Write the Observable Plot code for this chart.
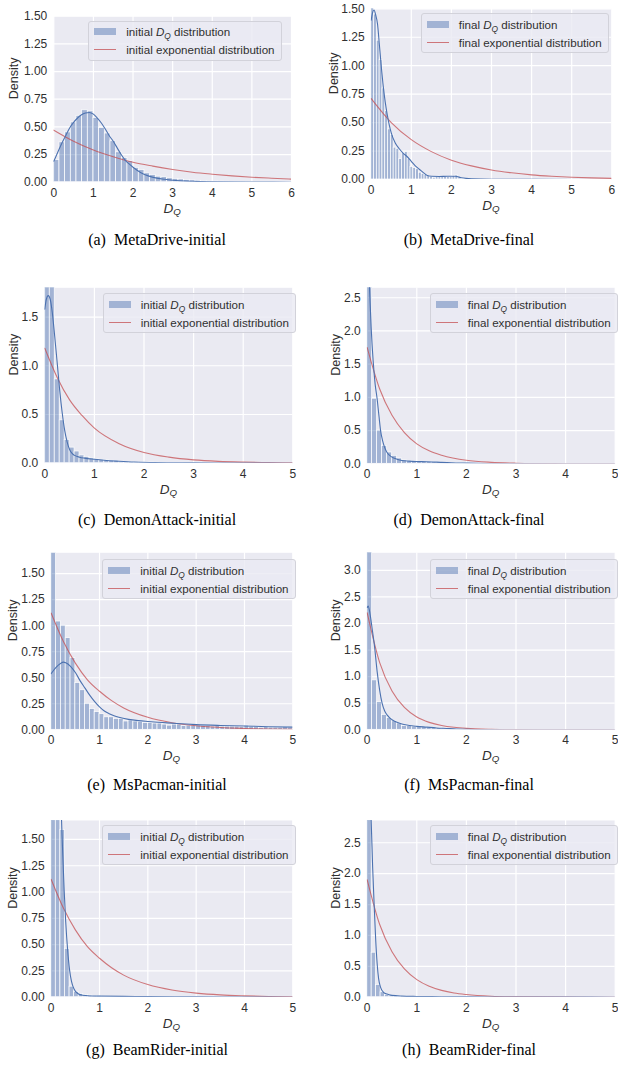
<!DOCTYPE html>
<html>
<head>
<meta charset="utf-8">
<script src="https://cdn.jsdelivr.net/npm/d3@7"></script>
<script src="https://cdn.jsdelivr.net/npm/@observablehq/plot@0.6"></script>
<style>
  body { margin: 0; background: #fff; }
  #fig { position: relative; width: 618px; height: 1065px; overflow: hidden; background: #fff;
         font-family: "Liberation Sans", Arial, sans-serif; color: #303030; }
  .svgwrap { position: absolute; }
  .legend { position: absolute; box-sizing: border-box; background: rgba(234,234,242,0.8);
            border: 1px solid #d2d2da; border-radius: 3px; font-size: 11.6px; padding: 1px 6px 1px 5px; }
  .row { height: 18px; display: flex; align-items: center; white-space: nowrap; }
  .sym { width: 22px; margin-right: 10px; flex: none; }
  .patch { height: 7px; background: rgba(76,114,176,0.45); }
  .lline { height: 0; border-top: 1.2px solid rgba(196,78,82,0.75); }
  sub { font-size: 0.72em; vertical-align: -0.3em; line-height: 0; }
  .xl { position: absolute; font-size: 13.5px; transform: translate(-50%, -50%); white-space: nowrap; }
  .cap { position: absolute; font-family: "Liberation Serif", "Times New Roman", serif; font-size: 16px;
         color: #000; white-space: pre; transform: translate(-50%, -50%); }
</style>
</head>
<body>
<div id="fig"></div>
<script>
// ---------------- data ----------------
const panelNames = ["MetaDrive-initial", "MetaDrive-final", "DemonAttack-initial", "DemonAttack-final",
                    "MsPacman-initial", "MsPacman-final", "BeamRider-initial", "BeamRider-final"];
const panelLetters = ["a", "b", "c", "d", "e", "f", "g", "h"];
const legendStage = ["initial", "final", "initial", "final", "initial", "final", "initial", "final"];

const xTicks6 = [0, 1, 2, 3, 4, 5, 6];
const xTicks5 = [0, 1, 2, 3, 4, 5];
const yTicksQuarter = [0, 0.25, 0.5, 0.75, 1.0, 1.25, 1.5];
const yTicksHalf15 = [0, 0.5, 1.0, 1.5];
const yTicksHalf25 = [0, 0.5, 1.0, 1.5, 2.0, 2.5];
const yTicksHalf30 = [0, 0.5, 1.0, 1.5, 2.0, 2.5, 3.0];

// bin widths of the histograms
const binWidths = [0.143, 0.07, 0.1, 0.1, 0.1, 0.1, 0.095, 0.09];

// (a) MetaDrive-initial
const aHist = [0.20, 0.36, 0.45, 0.54, 0.60, 0.65, 0.64, 0.58, 0.49, 0.44, 0.37, 0.27, 0.22, 0.19, 0.13, 0.11,
               0.08, 0.065, 0.05, 0.045, 0.035, 0.03, 0.025, 0.02, 0.016, 0.013, 0.01, 0.008, 0.006, 0.005,
               0.004, 0.003, 0.003, 0.002, 0.002];
const aKde = [[0,0.19],[0.1,0.27],[0.2,0.35],[0.3,0.42],[0.4,0.49],[0.5,0.54],[0.6,0.58],[0.7,0.61],[0.8,0.625],
              [0.9,0.63],[1.0,0.615],[1.1,0.58],[1.2,0.535],[1.3,0.48],[1.4,0.42],[1.5,0.37],[1.6,0.31],[1.7,0.25],
              [1.8,0.2],[1.9,0.165],[2.0,0.135],[2.2,0.085],[2.4,0.055],[2.6,0.037],[2.8,0.026],[3.0,0.018],
              [3.5,0.008],[4,0.004],[5,0.001],[6,0]];
const aExp = [[0,0.47],[0.5,0.37],[1,0.29],[1.5,0.23],[2,0.18],[2.5,0.145],[3,0.115],[3.5,0.09],[4,0.072],
              [4.5,0.057],[5,0.045],[5.5,0.036],[6,0.028]];

// (b) MetaDrive-final
const bHist = [1.55, 1.45, 1.22, 1.05, 0.80, 0.60, 0.44, 0.39, 0.28, 0.27, 0.18, 0.23, 0.24, 0.18, 0.11, 0.10,
               0.09, 0.06, 0.05, 0.04, 0.03, 0.02, 0.015, 0.02, 0.02, 0.02, 0.025, 0.02, 0.02, 0.03, 0.035,
               0.01, 0.005, 0.005, 0.003];
const bKde = [[0,1.40],[0.03,1.46],[0.07,1.49],[0.11,1.45],[0.16,1.36],[0.2,1.2],[0.25,1.0],[0.3,0.82],
              [0.35,0.68],[0.4,0.57],[0.45,0.48],[0.5,0.41],[0.6,0.32],[0.7,0.27],[0.8,0.23],[0.9,0.2],
              [1.0,0.16],[1.1,0.12],[1.2,0.09],[1.3,0.06],[1.4,0.035],[1.5,0.028],[1.7,0.027],[1.9,0.028],
              [2.1,0.028],[2.25,0.015],[2.5,0.006],[3,0.002],[4,0.001],[6,0]];
const bExp = [[0,0.71],[0.5,0.50],[1,0.35],[1.5,0.245],[2,0.17],[2.5,0.12],[3,0.084],[3.5,0.059],[4,0.041],
              [4.5,0.029],[5,0.02],[5.5,0.014],[6,0.01]];

// (c) DemonAttack-initial
const cHist = [2.0, 1.9, 0.86, 0.44, 0.24, 0.16, 0.12, 0.08, 0.065, 0.05, 0.04, 0.035, 0.03, 0.025, 0.02,
               0.015, 0.012, 0.01, 0.009, 0.008, 0.007, 0.006, 0.005, 0.004, 0.004, 0.003, 0.003, 0.002];
const cKde = [[0,1.58],[0.03,1.68],[0.07,1.72],[0.11,1.68],[0.15,1.55],[0.2,1.3],[0.25,1.03],[0.3,0.75],
              [0.35,0.52],[0.4,0.34],[0.45,0.22],[0.5,0.14],[0.55,0.1],[0.6,0.08],[0.7,0.062],[0.8,0.052],
              [1.0,0.04],[1.2,0.03],[1.5,0.02],[1.8,0.012],[2.2,0.007],[3,0.003],[4,0.001],[5,0]];
const cExp = [[0,1.18],[0.25,0.88],[0.5,0.65],[0.75,0.49],[1,0.36],[1.5,0.2],[2,0.11],[2.5,0.062],[3,0.034],
              [3.5,0.019],[4,0.011],[4.5,0.006],[5,0.003]];

// (d) DemonAttack-final
const dHist = [3.0, 0.98, 0.50, 0.27, 0.17, 0.12, 0.08, 0.05, 0.04, 0.035, 0.03, 0.03, 0.028, 0.025, 0.02,
               0.015, 0.01, 0.01, 0.008, 0.006, 0.005, 0.004, 0.003, 0.002, 0.002];
const dKde = [[0,3.2],[0.04,2.75],[0.08,2.05],[0.12,1.55],[0.16,1.2],[0.2,0.98],[0.24,0.7],[0.27,0.5],
              [0.31,0.35],[0.35,0.25],[0.4,0.17],[0.5,0.1],[0.6,0.07],[0.7,0.05],[0.85,0.04],[1.0,0.035],
              [1.2,0.032],[1.4,0.025],[1.7,0.015],[2.0,0.01],[2.5,0.004],[3,0.002],[5,0]];
const dExp = [[0,1.75],[0.25,1.13],[0.5,0.73],[0.75,0.47],[1,0.30],[1.25,0.195],[1.5,0.13],[2,0.053],
              [2.5,0.022],[3,0.009],[3.5,0.004],[4,0.0016],[5,0.0003]];

// (e) MsPacman-initial
const eHist = [1.70, 1.04, 1.00, 0.88, 0.69, 0.45, 0.38, 0.25, 0.20, 0.17, 0.15, 0.12, 0.12, 0.105, 0.105,
               0.08, 0.09, 0.08, 0.075, 0.065, 0.065, 0.06, 0.06, 0.05, 0.04, 0.05, 0.05, 0.035, 0.04, 0.04,
               0.04, 0.035, 0.035, 0.03, 0.035, 0.03, 0.03, 0.03, 0.03, 0.025, 0.04, 0.03, 0.025, 0.02,
               0.025, 0.02, 0.02, 0.02, 0.025, 0.02];
const eKde = [[0,0.54],[0.1,0.6],[0.2,0.64],[0.25,0.65],[0.3,0.645],[0.4,0.61],[0.5,0.55],[0.6,0.47],
              [0.7,0.4],[0.8,0.33],[0.9,0.27],[1.0,0.22],[1.1,0.18],[1.2,0.155],[1.3,0.135],[1.4,0.12],
              [1.6,0.1],[1.8,0.088],[2.0,0.08],[2.3,0.07],[2.6,0.06],[3.0,0.05],[3.5,0.042],[4.0,0.036],
              [4.5,0.03],[5.0,0.026]];
const eExp = [[0,1.12],[0.25,0.85],[0.5,0.64],[0.75,0.48],[1,0.37],[1.25,0.28],[1.5,0.21],[2,0.12],
              [2.5,0.068],[3,0.039],[3.5,0.022],[4,0.013],[4.5,0.007],[5,0.004]];

// (f) MsPacman-final
const fHist = [3.4, 0.93, 0.52, 0.28, 0.22, 0.16, 0.12, 0.07, 0.07, 0.06, 0.06, 0.05, 0.04, 0.03, 0.03,
               0.025, 0.02, 0.015, 0.01, 0.01, 0.008, 0.006, 0.005, 0.004, 0.003, 0.002];
const fKde = [[0,2.3],[0.02,2.33],[0.05,2.22],[0.1,1.9],[0.15,1.55],[0.2,1.1],[0.25,0.75],[0.3,0.5],
              [0.35,0.36],[0.4,0.28],[0.5,0.19],[0.6,0.14],[0.7,0.11],[0.8,0.09],[0.9,0.075],[1.0,0.065],
              [1.2,0.05],[1.4,0.035],[1.6,0.025],[1.8,0.015],[2.0,0.01],[2.5,0.004],[3,0.001],[5,0]];
const fExp = [[0,2.2],[0.25,1.27],[0.5,0.73],[0.75,0.42],[1,0.24],[1.25,0.14],[1.5,0.081],[1.75,0.047],
              [2,0.027],[2.5,0.009],[3,0.003],[4,0.0003],[5,0]];

// (g) BeamRider-initial
const gHist = [2.5, 2.3, 1.59, 0.46, 0.10, 0.05, 0.03, 0.02, 0.015, 0.01, 0.008, 0.006, 0.005, 0.004,
               0.004, 0.003, 0.003, 0.002, 0.002];
const gKde = [[0,3.0],[0.1,3.6],[0.18,2.4],[0.21,1.75],[0.24,1.35],[0.27,1.0],[0.3,0.72],[0.34,0.45],
              [0.38,0.26],[0.42,0.15],[0.47,0.08],[0.55,0.035],[0.65,0.018],[0.8,0.012],[1.0,0.01],
              [1.5,0.008],[2,0.006],[3,0.003],[4,0.001],[5,0]];
const gExp = [[0,1.12],[0.25,0.85],[0.5,0.64],[0.75,0.48],[1,0.37],[1.25,0.28],[1.5,0.21],[2,0.12],
              [2.5,0.068],[3,0.039],[3.5,0.022],[4,0.013],[4.5,0.007],[5,0.004]];

// (h) BeamRider-final
const hHist = [3.2, 0.72, 0.20, 0.08, 0.04, 0.03, 0.02, 0.015, 0.01, 0.008, 0.006, 0.005, 0.004, 0.003,
               0.003, 0.002, 0.002];
const hKde = [[0,3.6],[0.05,3.3],[0.08,2.86],[0.11,2.1],[0.14,1.5],[0.17,0.95],[0.2,0.55],[0.23,0.3],
              [0.27,0.16],[0.33,0.08],[0.4,0.05],[0.5,0.03],[0.7,0.018],[1.0,0.012],[1.5,0.008],[2,0.005],
              [3,0.002],[4,0.001],[5,0]];
const hExp = [[0,1.9],[0.25,1.18],[0.5,0.735],[0.75,0.457],[1,0.284],[1.25,0.177],[1.5,0.11],[1.75,0.068],
              [2,0.043],[2.5,0.016],[3,0.0063],[4,0.001],[5,0.0001]];

const hists = [aHist, bHist, cHist, dHist, eHist, fHist, gHist, hHist];
const kdes = [aKde, bKde, cKde, dKde, eKde, fKde, gKde, hKde];
const exps = [aExp, bExp, cExp, dExp, eExp, fExp, gExp, hExp];
const yMax = [1.5, 1.5, 1.8, 2.65, 1.7, 3.33, 1.68, 2.86];
const xMax = [6, 6, 5, 5, 5, 5, 5, 5];
const xTickSets = [xTicks6, xTicks6, xTicks5, xTicks5, xTicks5, xTicks5, xTicks5, xTicks5];
const yTickSets = [yTicksQuarter, yTicksQuarter, yTicksHalf15, yTicksHalf25, yTicksQuarter, yTicksHalf30, yTicksQuarter, yTicksHalf25];
const yFormats = [".2f", ".2f", ".1f", ".1f", ".2f", ".1f", ".2f", ".1f"];

// ---------------- layout (page pixels) ----------------
const layout = [
  {sx: 0,   sy: 0,   f: [53.3, 15.7, 291, 181.7],   dens: 40, leg: [88.3, 20.7],  cap: [157, 240]},
  {sx: 309, sy: 0,   f: [370.7, 8.3, 611.3, 179],   dens: 37, leg: [420.7, 13.3], cap: [469, 240]},
  {sx: 0,   sy: 270, f: [44.3, 287.3, 292.3, 462.7], dens: 31, leg: [102.7, 293.3], cap: [157, 520]},
  {sx: 309, sy: 270, f: [366.7, 287.3, 614.7, 463.3], dens: 31, leg: [429.7, 293.3], cap: [469, 520]},
  {sx: 0,   sy: 540, f: [50.7, 552.3, 292.3, 729.3], dens: 38, leg: [102.3, 559.3], cap: [157, 785]},
  {sx: 309, sy: 540, f: [366.7, 552.3, 614.7, 729.3], dens: 31, leg: [429.7, 559.3], cap: [469, 785]},
  {sx: 0,   sy: 810, f: [50.7, 820, 292.3, 996.7],   dens: 38, leg: [102.3, 825],   cap: [157, 1050]},
  {sx: 309, sy: 810, f: [366.7, 820, 614.7, 996.7], dens: 31, leg: [429.7, 825],   cap: [469, 1050]}
];
const SW = 309, SH = 230;

const fig = document.getElementById("fig");

for (let i = 0; i < 8; i++) {
  const L = layout[i];
  const bw = binWidths[i];
  const bars = hists[i].map((h, k) => ({x1: k * bw, x2: (k + 1) * bw, y: h}));
  const kde = kdes[i].map(([x, y]) => ({x, y}));
  const ex = exps[i].map(([x, y]) => ({x, y}));

  const chart = Plot.plot({
    width: SW, height: SH,
    marginLeft: L.f[0] - L.sx,
    marginRight: L.sx + SW - L.f[2],
    marginTop: L.f[1] - L.sy,
    marginBottom: L.sy + SH - L.f[3],
    x: {domain: [0, xMax[i]]},
    y: {domain: [0, yMax[i]]},
    style: {fontSize: "12px", fontFamily: "'Liberation Sans', Arial, sans-serif", color: "#303030",
            background: "transparent", overflow: "visible"},
    marks: [
      Plot.frame({fill: "#EAEAF2", stroke: "none"}),
      Plot.gridX({ticks: xTickSets[i], stroke: "white", strokeOpacity: 1, strokeWidth: 1.2}),
      Plot.gridY({ticks: yTickSets[i], stroke: "white", strokeOpacity: 1, strokeWidth: 1.2}),
      Plot.rectY(bars, {x1: "x1", x2: "x2", y: "y", fill: "#4C72B0", fillOpacity: 0.45,
                        stroke: "white", strokeWidth: 0.7, clip: true}),
      Plot.line(ex, {x: "x", y: "y", stroke: "#C44E52", strokeOpacity: 0.75, strokeWidth: 1.1,
                     curve: "monotone-x", clip: true}),
      Plot.line(kde, {x: "x", y: "y", stroke: "#4C72B0", strokeWidth: 1.1, curve: "monotone-x", clip: true}),
      Plot.axisX({ticks: xTickSets[i], tickSize: 0, tickPadding: 6, label: null, tickFormat: d => String(d)}),
      Plot.axisY({ticks: yTickSets[i], tickSize: 0, tickPadding: 6.5, label: null, tickFormat: d3.format(yFormats[i])}),
      Plot.text(["Density"], {frameAnchor: "left", dx: -L.dens, rotate: -90, fontSize: 12.5})
    ]
  });
  const wrap = document.createElement("div");
  wrap.className = "svgwrap";
  wrap.style.left = L.sx + "px";
  wrap.style.top = L.sy + "px";
  wrap.appendChild(chart);
  fig.appendChild(wrap);

  // x label D_Q
  const xl = document.createElement("div");
  xl.className = "xl";
  xl.style.left = ((L.f[0] + L.f[2]) / 2) + "px";
  xl.style.top = (L.f[3] + 26) + "px";
  xl.innerHTML = "<i>D<sub>Q</sub></i>";
  fig.appendChild(xl);

  // legend
  const lg = document.createElement("div");
  lg.className = "legend";
  lg.style.left = L.leg[0] + "px";
  lg.style.top = L.leg[1] + "px";
  lg.innerHTML =
    `<div class="row"><div class="sym patch"></div><span>${legendStage[i]} <i>D<sub>Q</sub></i> distribution</span></div>` +
    `<div class="row"><div class="sym lline"></div><span>${legendStage[i]} exponential distribution</span></div>`;
  fig.appendChild(lg);

  // caption
  const cap = document.createElement("div");
  cap.className = "cap";
  cap.style.left = L.cap[0] + "px";
  cap.style.top = L.cap[1] + "px";
  cap.textContent = `(${panelLetters[i]})  ${panelNames[i]}`;
  fig.appendChild(cap);
}
</script>
</body>
</html>
